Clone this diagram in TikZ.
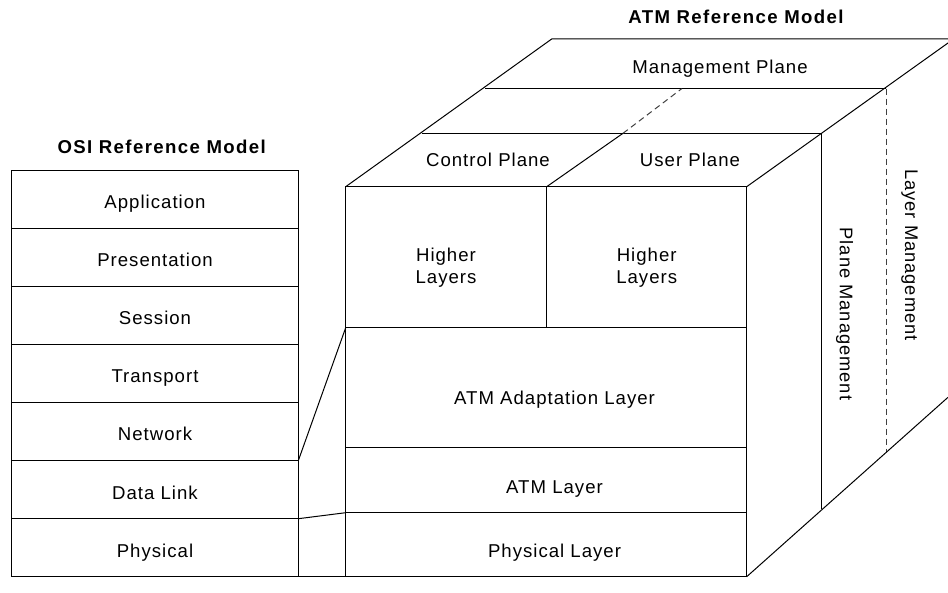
\documentclass[tikz,border=0pt]{standalone}
\usepackage{fontspec}
\setmainfont{Liberation Sans}[LetterSpace=5.4]
\begin{document}
\begin{tikzpicture}[x=1pt,y=-1pt,line width=1pt,
  lbl/.style={font=\fontsize{18.6}{22.3}\selectfont, anchor=base, inner sep=0pt},
  vlbl/.style={font=\fontsize{18.3}{22}\selectfont, inner sep=0pt, rotate=-90, anchor=center},
  ttl/.style={font=\fontsize{18.6}{22}\selectfont\bfseries\addfontfeature{LetterSpace=7.5}, anchor=base, inner sep=0pt},
  box/.style={draw, inner sep=0pt, outer sep=0pt, anchor=center},
  osibox/.style={box, minimum width=286.6pt, minimum height=58pt},
  hidden/.style={dash pattern=on 6pt off 4pt, draw=black!75}]
\useasboundingbox (0,0) rectangle (948,593);

% OSI stack
\node[osibox] (app)   at (155,199.7) {};
\node[osibox] (pres)  at (155,257.7) {};
\node[osibox] (sess)  at (155,315.7) {};
\node[osibox] (trans) at (155,373.7) {};
\node[osibox] (net)   at (155,431.7) {};
\node[osibox] (dl)    at (155,489.7) {};
\node[osibox] (phy)   at (155,547.7) {};
\node[lbl] (tapp)   at (155,209) {Application};
\node[lbl] (tpres)  at (155,267) {Presentation};
\node[lbl] (tsess)  at (155,325) {Session};
\node[lbl] (ttrans) at (155,383) {Transport};
\node[lbl] (tnet)   at (155,441) {Network};
\node[lbl] (tdl)    at (155,499) {Data Link};
\node[lbl] (tphy)   at (155,557) {Physical};
\node[ttl] (osititle) at (161.7,153.3) {OSI Reference Model};

% ATM front face
\node[box, minimum width=201pt, minimum height=141pt] (hll) at (446.2,257.2) {};
\node[box, minimum width=200pt, minimum height=141pt] (hlr) at (646.7,257.2) {};
\node[box, minimum width=401pt, minimum height=119.6pt] (aal) at (546.2,387.5) {};
\node[box, minimum width=401pt, minimum height=65.4pt] (atml) at (546.2,480) {};
\node[box, minimum width=401pt, minimum height=64pt] (phyl) at (546.2,544.7) {};

\node[lbl] (thl1) at (446,261.7) {Higher};
\node[lbl] (thl2) at (446,284) {Layers};
\node[lbl] (thr1) at (646.7,261.7) {Higher};
\node[lbl] (thr2) at (646.7,284) {Layers};
\node[lbl] (taal) at (554.5,405) {ATM Adaptation Layer};
\node[lbl] (tatm) at (554.5,493.3) {ATM Layer};
\node[lbl] (tphl) at (554.5,557.3) {Physical Layer};

% connectors OSI -> ATM
\draw (net.south east) -- (aal.north west);
\draw (dl.south east) -- (phyl.north west);
\draw (phy.south east) -- (phyl.south west);

% top face
\coordinate (tl) at (551.7,39);
\coordinate (tr) at (948,39);
\coordinate (m1l) at (485,88.7);
\coordinate (m1r) at (886,88.7);
\coordinate (m2l) at (421.7,133.3);
\coordinate (m2r) at (821,133.3);
\coordinate (mid2) at (623,133.3);
\coordinate (mid1) at (681.7,88.7);
\coordinate (rtop) at (948,43);
\draw (hll.north west) -- (tl) -- (tr);
\draw (m1l) -- (m1r);
\draw (m2l) -- (m2r);
\draw (hll.north east) -- (mid2);
\draw[hidden] (mid2) -- (mid1);
\draw (hlr.north east) -- (rtop);

% right face
\coordinate (pmb) at (821,509.3);
\coordinate (lmb) at (886,451.7);
\coordinate (rbot) at (948,397.3);
\draw (m2r) -- (pmb);
\draw[hidden] (m1r) -- (lmb);
\draw (phyl.south east) -- (rbot);

% top labels
\node[lbl] (tcp) at (488,166.7) {Control Plane};
\node[lbl] (tup) at (690,166.7) {User Plane};
\node[lbl] (tmp) at (720,73.3) {Management Plane};
\node[ttl] (atmtitle) at (736,23.3) {ATM Reference Model};

% side labels
\node[vlbl] (tpm) at (844.5,314) {Plane Management};
\node[vlbl] (tlm) at (909.5,255) {Layer Management};
\end{tikzpicture}
\end{document}
